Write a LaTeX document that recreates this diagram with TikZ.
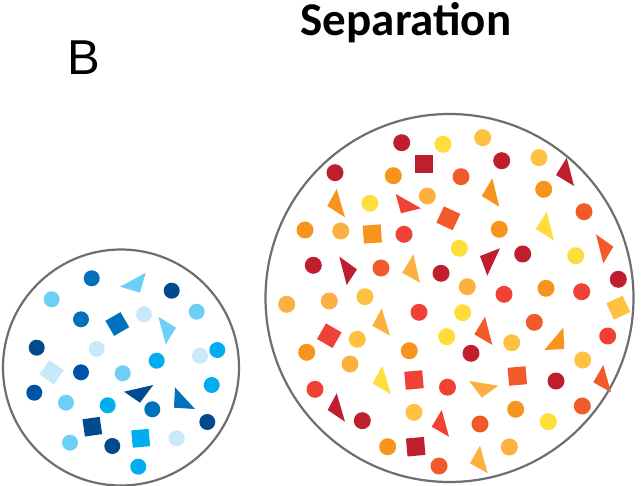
\documentclass[tikz,border=0pt]{standalone}
\usepackage{fontspec}
\newfontfamily\carlito{Carlito}
\newfontfamily\libsans{Liberation Sans}
\definecolor{navy}{HTML}{004A8D}
\definecolor{dblue}{HTML}{0054A6}
\definecolor{medblue}{HTML}{0072BC}
\definecolor{cyanb}{HTML}{00AEEF}
\definecolor{lblue}{HTML}{6DCFF6}
\definecolor{vlblue}{HTML}{C7E9F9}
\definecolor{dred}{HTML}{BE1E2D}
\definecolor{redc}{HTML}{EF4136}
\definecolor{ored}{HTML}{F15A29}
\definecolor{orangec}{HTML}{F7941D}
\definecolor{lorange}{HTML}{FBB040}
\definecolor{gold}{HTML}{FEC140}
\definecolor{yellowc}{HTML}{FFDE3B}
\definecolor{rim}{HTML}{6D6E71}
\tikzset{rimline/.style={draw=rim,line width=2.2pt}}
\begin{document}
\begin{tikzpicture}[x=1pt,y=-1pt]
\useasboundingbox (0,0) rectangle (642,486);
% titles
\node[anchor=base west,inner sep=0,font=\libsans\fontsize{49}{49}\selectfont] (lblB) at (67,75) {B};
\node[anchor=base west,inner sep=0,font=\carlito\bfseries\fontsize{47}{47}\selectfont] (lblSep) at (300.5,36) {Separation};
% ---------------- small circle ----------------
\draw[rimline] (121,367.5) circle (118pt);
\foreach \c/\x/\y in {medblue/91.7/278.3, lblue/51.7/299.3, navy/171.7/290.7, lblue/196.7/311.7,
  vlblue/144/314.3, medblue/81/319.3, navy/36.7/347.7, vlblue/96.7/349, vlblue/200/355.7,
  cyanb/217.3/350, cyanb/156.7/360.7, dblue/81/372.3, lblue/122.7/373.3, dblue/34.3/392.7,
  lblue/66/402.7, cyanb/107.7/405.3, medblue/152.3/409.3, cyanb/211.7/385, navy/207.3/422,
  lblue/70/442.7, navy/112.3/446, vlblue/176.7/438.3, cyanb/138.3/466.7}
  \fill[\c] (\x,\y) circle (8pt);
\foreach \c/\x/\y/\a in {medblue/117.3/324/30, vlblue/51.7/372.3/-35, navy/92.3/426.7/8, cyanb/140.7/438.3/5}
  \fill[\c,shift={(\x,\y)},rotate=\a] (-8.7,-8.7) rectangle (8.7,8.7);
\foreach \c/\ax/\ay/\bx/\by/\cx/\cy in {lblue/120/286.7/145.7/272.7/140/292.7,
  lblue/158.3/316.7/176/327.7/165.7/344.3, navy/124/391.7/153.3/385/140/402.7,
  medblue/175/387.3/195/409/174/407.7}
  \fill[\c] (\ax,\ay) -- (\bx,\by) -- (\cx,\cy) -- cycle;
% ---------------- big circle ----------------
\draw[rimline] (449.5,298) circle (184pt);
\foreach \c/\x/\y in {dred/401.7/142.7, yellowc/443/144.3, dred/335/172.7, orangec/393.3/175.7,
  lorange/427.3/196, yellowc/370/203.3, orangec/305/230, lorange/340.7/231, redc/404/234.3,
  dred/313.3/265.3, ored/381/268, dred/441/273.3, lorange/286.7/304.3, lorange/329.3/301,
  gold/365/296.7,
  gold/482.7/137.7, dred/501.7/160.7, gold/539/157.7, ored/461/176.7, orangec/543.7/189.3,
  ored/584/211.7, orangec/499.3/229.3, yellowc/459.3/248.3, dred/522.7/254, yellowc/575.7/255.7,
  dred/618.3/279.3, lorange/467.3/286.7, redc/504/294.3, orangec/546/288.3, redc/581.7/291.7,
  redc/419/312.3, yellowc/446.7/336.7, gold/357.3/339.3, orangec/306.7/352.3, orangec/409.3/350.7,
  lorange/350/364, redc/315/389.3, redc/447.5/387.2, dred/362.3/420.7, gold/414/412.3,
  orangec/387.7/446.7, ored/439/466,
  yellowc/462.7/312.7, ored/534.3/322.3, redc/607.7/336, gold/511.7/342.7, dred/471/353.3,
  gold/582.7/360, dred/556/381, orangec/515.7/409.3, ored/582.3/406, yellowc/548.3/421.7,
  ored/480/424, lorange/509.3/447}
  \fill[\c] (\x,\y) circle (8.5pt);
\foreach \c/\x/\y/\a in {dred/424/164.3/0, orangec/372.3/234/4, ored/448.3/218.3/-25,
  redc/329.3/335.7/-30, redc/414/380/5, dred/415.7/446.7/5, gold/618.3/307.7/25, ored/517.3/376/5}
  \fill[\c,shift={(\x,\y)},rotate=\a] (-9,-9) rectangle (9,9);
\foreach \c/\ax/\ay/\bx/\by/\cx/\cy in {
  orangec/336.7/189/327.3/206/345/217.3,
  redc/395.7/194/421/208.3/401/213.3,
  dred/339.3/256.7/357/269.3/346.7/285,
  lorange/413.3/254.3/402.3/272.7/420/282.7,
  dred/566.7/157.7/556/175/574/186,
  orangec/492.3/178.3/481.7/196/499.3/206.7,
  yellowc/546.7/211.7/535.7/229/554/240.7,
  ored/596/234.3/613.3/246.7/603.3/263.3,
  dred/480/256/500/248.3/487.3/275.7,
  lorange/381.7/308.3/372.3/325.7/390/335.7,
  yellowc/382.3/366/372.7/383.3/391/394.3,
  dred/336.7/393.3/327.7/410/345/421.7,
  redc/441.7/410/431.7/426.7/449/436.7,
  ored/485/316.7/474.3/334.3/492.3/345,
  orangec/563.3/327.7/544.3/350/564.3/349,
  lorange/469.3/381/498.3/385.7/481.7/397.7,
  ored/603.3/365/593.3/382.3/611/392.3,
  lorange/480/445.7/470/463.3/487.7/473.3}
  \fill[\c] (\ax,\ay) -- (\bx,\by) -- (\cx,\cy) -- cycle;
\end{tikzpicture}
\end{document}
